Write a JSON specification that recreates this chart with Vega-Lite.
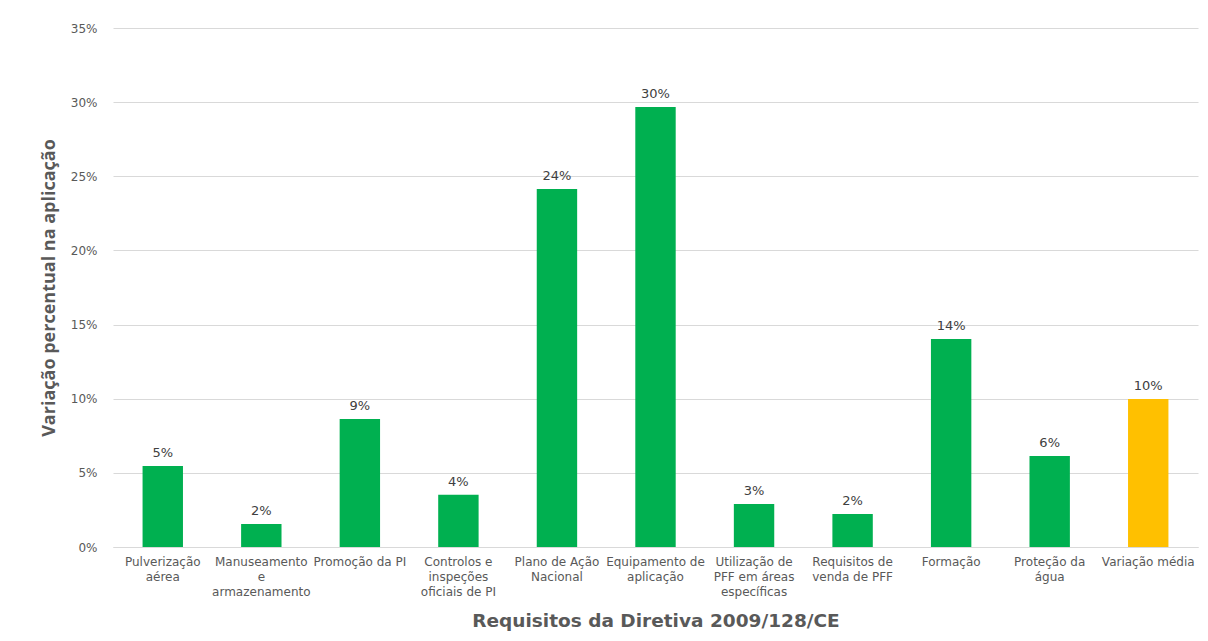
{
  "$schema": "https://vega.github.io/schema/vega-lite/v6.json",
  "autosize": {"type": "none"},
  "padding": {"left": 113, "top": 28, "right": 10, "bottom": 94},
  "width": 1085,
  "height": 519,
  "background": "white",
  "config": {
    "font": "Open Sans",
    "view": {"stroke": null}
  },
  "data": {
    "values": [
      {"req": "Pulverização|aérea", "valor": 0.0546, "tipo": "req"},
      {"req": "Manuseamento|e|armazenamento", "valor": 0.0155, "tipo": "req"},
      {"req": "Promoção da PI", "valor": 0.0863, "tipo": "req"},
      {"req": "Controlos e|inspeções|oficiais de PI", "valor": 0.0352, "tipo": "req"},
      {"req": "Plano de Ação|Nacional", "valor": 0.2414, "tipo": "req"},
      {"req": "Equipamento de|aplicação", "valor": 0.2967, "tipo": "req"},
      {"req": "Utilização de|PFF em áreas|específicas", "valor": 0.029, "tipo": "req"},
      {"req": "Requisitos de|venda de PFF", "valor": 0.0222, "tipo": "req"},
      {"req": "Formação", "valor": 0.1403, "tipo": "req"},
      {"req": "Proteção da|água", "valor": 0.0614, "tipo": "req"},
      {"req": "Variação média", "valor": 0.0998, "tipo": "media"}
    ]
  },
  "encoding": {
    "x": {
      "field": "req",
      "type": "nominal",
      "sort": null,
      "scale": {"paddingInner": 0.59, "paddingOuter": 0.3},
      "axis": {
        "title": "Requisitos da Diretiva 2009/128/CE",
        "titleFont": "DejaVu Sans",
        "titleFontSize": 18.5,
        "titleFontWeight": "bold",
        "titleColor": "#595959",
        "titlePadding": 14,
        "labelExpr": "split(datum.label, '|')",
        "labelAngle": 0,
        "labelFont": "DejaVu Sans",
        "labelFontSize": 12,
        "labelColor": "#595959",
        "labelLineHeight": 15,
        "labelPadding": 9,
        "labelLimit": 200,
        "ticks": false,
        "domain": true,
        "domainColor": "#d9d9d9",
        "domainWidth": 1
      }
    },
    "y": {
      "field": "valor",
      "type": "quantitative",
      "scale": {"domain": [0, 0.35]},
      "axis": {
        "title": "Variação percentual na aplicação",
        "titleFont": "Open Sans",
        "titleFontSize": 18,
        "titleFontWeight": "bold",
        "titleColor": "#595959",
        "titlePadding": 12,
        "format": ".0%",
        "values": [0, 0.05, 0.1, 0.15, 0.2, 0.25, 0.3, 0.35],
        "labelFont": "DejaVu Sans",
        "labelFontSize": 12,
        "labelColor": "#595959",
        "labelPadding": 16,
        "ticks": false,
        "domain": false,
        "grid": true,
        "gridColor": "#d9d9d9",
        "gridWidth": 1
      }
    }
  },
  "layer": [
    {
      "mark": {"type": "bar"},
      "encoding": {
        "color": {
          "field": "tipo",
          "type": "nominal",
          "scale": {"domain": ["req", "media"], "range": ["#00B050", "#FFC000"]},
          "legend": null
        }
      }
    },
    {
      "mark": {"type": "text", "dy": -13, "fontSize": 13, "font": "DejaVu Sans", "color": "#404040"},
      "encoding": {
        "text": {"field": "valor", "type": "quantitative", "format": ".0%"}
      }
    }
  ]
}
